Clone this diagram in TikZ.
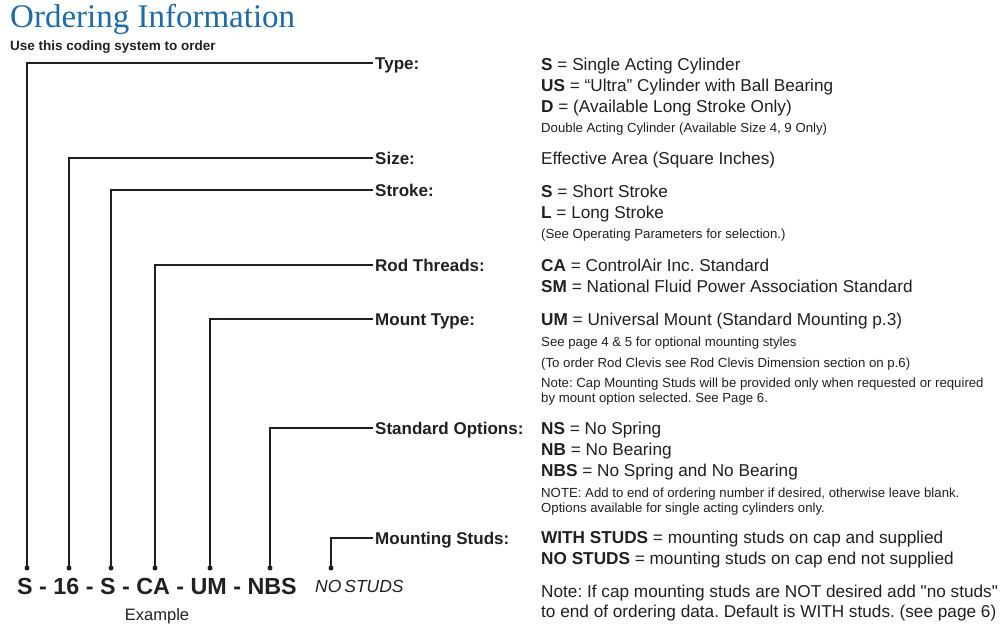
\documentclass[tikz,border=0pt]{standalone}
\usepackage{fontspec}
\setmainfont{Liberation Sans}
\newfontfamily\titlefont{Liberation Serif}
\usetikzlibrary{positioning}
\definecolor{titleblue}{RGB}{28,106,168}
\definecolor{ink}{RGB}{35,31,32}
\frenchspacing

\begin{document}
\begin{tikzpicture}[x=1pt,y=-1pt,
  lead/.style={line width=2.5pt,ink},
  dot/.style={circle,fill=ink,inner sep=0pt,minimum size=5pt},
  field/.style={anchor=west,inner sep=0pt,text height=13pt,text depth=0pt,
    font=\fontsize{17}{20}\selectfont\bfseries,text=ink},
  info/.style={anchor=base west,inner sep=0pt,font=\fontsize{17.2}{20}\selectfont,text=ink},
  note/.style={anchor=base west,inner sep=0pt,font=\fontsize{13.2}{15}\selectfont,text=ink}]
  \useasboundingbox (0,0) rectangle (1002,625);
  % Heading
  \node[anchor=base west,inner sep=0pt,text=titleblue,font=\titlefont\fontsize{33}{36}\selectfont]
    (title) at (10,27) {Ordering Information};
  \node[anchor=base west,inner sep=0pt,text=ink,font=\fontsize{13.5}{16}\selectfont\bfseries]
    (subtitle) at (10,50) {Use this coding system to order};
  % Field names
  \node[field] (type)    at (375,63)  {Type:};
  \node[field] (size)    at (375,158) {Size:};
  \node[field] (stroke)  at (375,190) {Stroke:};
  \node[field] (rod)     at (375,265) {Rod Threads:};
  \node[field] (mount)   at (375,319) {Mount Type:};
  \node[field] (options) at (375,428) {Standard Options:};
  \node[field] (studs)   at (375,538) {Mounting Studs:};
  % Example code with its dots
  \node[anchor=base west,inner sep=0pt,text=ink,font=\fontsize{23.3}{26}\selectfont\bfseries]
    (code) at (17,594) {S - 16 - S - CA - UM - NBS};
  \node[anchor=base west,inner sep=0pt,text=ink,font=\fontsize{17.5}{20}\selectfont\itshape]
    (nostuds) at (315,592) {NO\,STUDS};
  \node[anchor=base,inner sep=0pt,text=ink,font=\fontsize{16.5}{20}\selectfont]
    (example) at (157,620) {Example};
  \node[dot] (dtype)    at (27,568)  {};
  \node[dot] (dsize)    at (69,568)  {};
  \node[dot] (dstroke)  at (111,568) {};
  \node[dot] (drod)     at (155,568) {};
  \node[dot] (dmount)   at (210,568) {};
  \node[dot] (doptions) at (270,568) {};
  \node[dot] (dstuds)   at (331,568) {};
  % Leaders
  \draw[lead] (dtype.center)    |- ([xshift=-2.5pt]type.west);
  \draw[lead] (dsize.center)    |- ([xshift=-2.5pt]size.west);
  \draw[lead] (dstroke.center)  |- ([xshift=-2.5pt]stroke.west);
  \draw[lead] (drod.center)     |- ([xshift=-2.5pt]rod.west);
  \draw[lead] (dmount.center)   |- ([xshift=-2.5pt]mount.west);
  \draw[lead] (doptions.center) |- ([xshift=-2.5pt]options.west);
  \draw[lead] (dstuds.center)   |- ([xshift=-2.5pt]studs.west);
  % Type
  \node[info] (type1) at (541,70)  {\textbf{S} = Single Acting Cylinder};
  \node[info] (type2) at (541,91)  {\textbf{US} = “Ultra” Cylinder with Ball Bearing};
  \node[info] (type3) at (541,112) {\textbf{D} = (Available Long Stroke Only)};
  \node[note] (type4) at (541,132) {Double Acting Cylinder (Available Size 4, 9 Only)};
  % Size
  \node[info] (size1) at (541,164) {Effective Area (Square Inches)};
  % Stroke
  \node[info] (stroke1) at (541,197) {\textbf{S} = Short Stroke};
  \node[info] (stroke2) at (541,218) {\textbf{L} = Long Stroke};
  \node[note] (stroke3) at (541,238) {(See Operating Parameters for selection.)};
  % Rod threads
  \node[info] (rod1) at (541,271) {\textbf{CA} = ControlAir Inc. Standard};
  \node[info] (rod2) at (541,292) {\textbf{SM} = National Fluid Power Association Standard};
  % Mount type
  \node[info] (mount1) at (541,325) {\textbf{UM} = Universal Mount (Standard Mounting p.3)};
  \node[note] (mount2) at (541,346) {See page 4 \& 5 for optional mounting styles};
  \node[note] (mount3) at (541,367) {(To order Rod Clevis see Rod Clevis Dimension section on p.6)};
  \node[note] (mount4) at (541,387) {Note: Cap Mounting Studs will be provided only when requested or required};
  \node[note] (mount5) at (541,402) {by mount option selected. See Page 6.};
  % Standard options
  \node[info] (options1) at (541,434) {\textbf{NS} = No Spring};
  \node[info] (options2) at (541,455) {\textbf{NB} = No Bearing};
  \node[info] (options3) at (541,476) {\textbf{NBS} = No Spring and No Bearing};
  \node[note] (options4) at (541,497) {NOTE: Add to end of ordering number if desired, otherwise leave blank.};
  \node[note] (options5) at (541,512) {Options available for single acting cylinders only.};
  % Mounting studs
  \node[info] (studs1) at (541,543) {\textbf{WITH STUDS} = mounting studs on cap and supplied};
  \node[info] (studs2) at (541,564) {\textbf{NO STUDS} = mounting studs on cap end not supplied};
  \node[info] (studs3) at (541,597) {Note: If cap mounting studs are NOT desired add \textquotedbl no studs\textquotedbl};
  \node[info] (studs4) at (541,617) {to end of ordering data. Default is WITH studs. (see page 6)};
\end{tikzpicture}
\end{document}
